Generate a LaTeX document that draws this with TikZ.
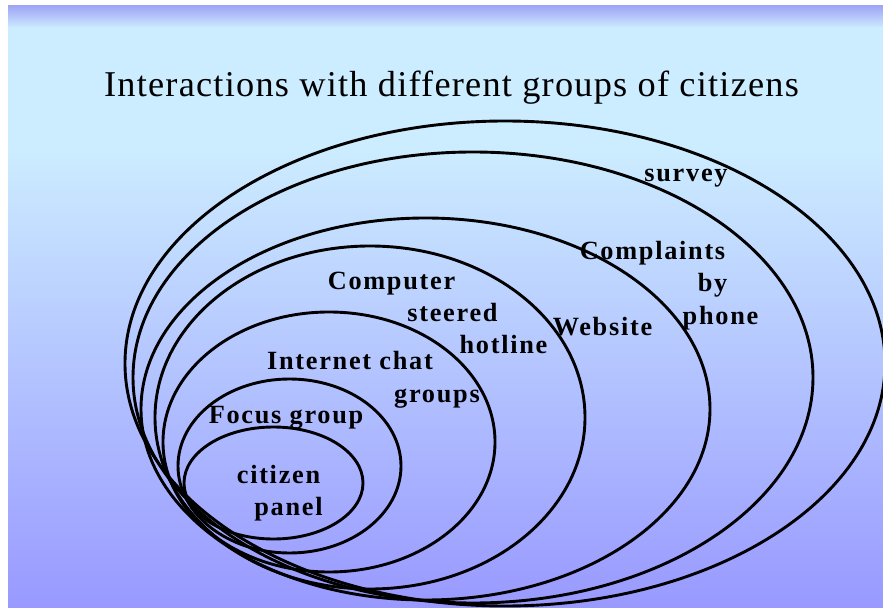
\documentclass[tikz,border=0pt]{standalone}
\usepackage{fontspec}
\setmainfont{Liberation Serif}
\newfontfamily\titlefont[LetterSpace=3.4]{Liberation Serif}
\newfontfamily\lblfont[LetterSpace=6.5]{Liberation Serif}
\definecolor{cyanbg}{RGB}{204,236,255}
\definecolor{bluebg}{RGB}{153,153,255}
\definecolor{topbg}{RGB}{160,166,245}
\tikzset{
  ell/.style={draw=black, line width=2.9pt},
  lbl/.style={anchor=base, inner sep=0pt, font=\lblfont\bfseries\fontsize{26.3}{31}\selectfont, text=black},
  ttl/.style={anchor=base, inner sep=0pt, font=\titlefont\fontsize{36.3}{42}\selectfont}
}
\begin{document}
\begin{tikzpicture}[x=1pt,y=-1pt]
\useasboundingbox (0,0) rectangle (883,609);
\fill[white] (0,0) rectangle (883,609);
\shade[top color=topbg, bottom color=cyanbg] (8,6) rectangle (883,28);
\fill[cyanbg] (8,27.5) rectangle (883,150.5);
\shade[top color=cyanbg, bottom color=bluebg] (8,150) rectangle (883,607);
\node[ttl] (title) at (451.5,97) {Interactions with different groups of citizens};
\begin{scope}
\clip (8,6) rectangle (883,607);
\draw[ell] (273.5,483) ellipse [x radius=89.5pt, y radius=56pt];
\draw[ell] (289.5,466) ellipse [x radius=111.5pt, y radius=87pt];
\draw[ell] (329,442) ellipse [x radius=166pt, y radius=130pt];
\draw[ell] (370,417.5) ellipse [x radius=215pt, y radius=171.5pt];
\draw[ell] (425.5,409) ellipse [x radius=284.5pt, y radius=191pt];
\draw[ell] (473,377.5) ellipse [x radius=340pt, y radius=225.5pt];
\draw[ell] (505,363.5) ellipse [x radius=380pt, y radius=242.5pt];
\end{scope}
\node[lbl] (citizen) at (278.5,483) {citizen};
\node[lbl] (panel) at (288.5,515) {panel};
\node[lbl] (focus) at (286,423) {Focus group};
\node[lbl] (internet) at (350,369) {Internet chat};
\node[lbl] (groups) at (437,402) {groups};
\node[lbl] (computer) at (391.5,290) {Computer};
\node[lbl] (steered) at (452.5,322) {steered};
\node[lbl] (hotline) at (503.5,353) {hotline};
\node[lbl] (website) at (602.5,336) {Website};
\node[lbl] (complaints) at (652.5,260) {Complaints};
\node[lbl] (by) at (712.5,292) {by};
\node[lbl] (phone) at (720.5,325) {phone};
\node[lbl] (survey) at (686,182) {survey};
\end{tikzpicture}
\end{document}
